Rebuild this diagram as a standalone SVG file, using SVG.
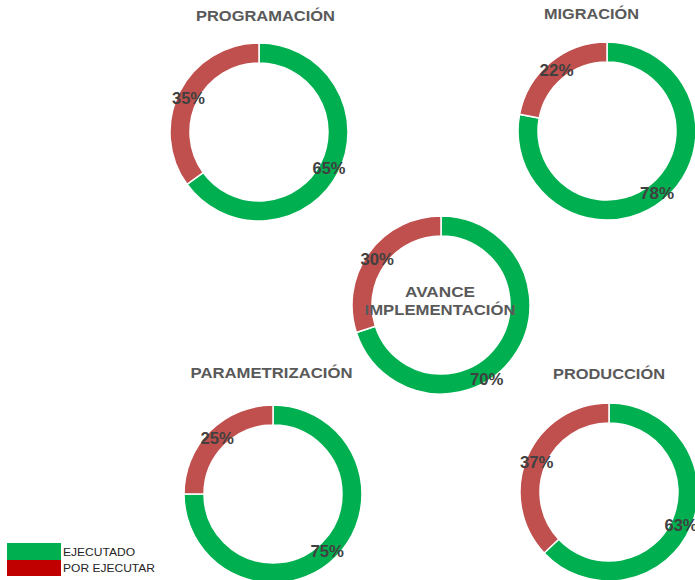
<svg xmlns="http://www.w3.org/2000/svg" width="695" height="580" viewBox="0 0 695 580">
<style>
.g{fill:#00B050;stroke:#fff;stroke-width:1.5}
.r{fill:#C0504D;stroke:#fff;stroke-width:1.5}
.t{font-family:"Liberation Sans",Arial,sans-serif;font-weight:bold;font-size:15.5px;fill:#595959;text-anchor:middle}
.p{font-family:"Liberation Sans",Arial,sans-serif;font-weight:bold;font-size:16px;fill:#404040}
.l{font-family:"Liberation Sans",Arial,sans-serif;font-size:11.5px;fill:#262626}
</style>
<rect width="695" height="580" fill="#fff"/>
<g id="programacion">
<path class="g" d="M259,43 A89,89 0 1 1 187.00,184.31 L203.18,172.56 A69,69 0 1 0 259,63 Z"/>
<path class="r" d="M187.00,184.31 A89,89 0 0 1 259,43 L259,63 A69,69 0 0 0 203.18,172.56 Z"/>
<text class="t" x="265.5" y="21" textLength="139" lengthAdjust="spacingAndGlyphs">PROGRAMACIÓN</text>
<text class="p" x="172" y="104" textLength="33" lengthAdjust="spacingAndGlyphs">35%</text>
<text class="p" x="312.5" y="174" textLength="33" lengthAdjust="spacingAndGlyphs">65%</text>
</g>
<g id="migracion">
<path class="g" d="M607,42 A89,89 0 1 1 519.58,114.32 L539.22,118.07 A69,69 0 1 0 607,62 Z"/>
<path class="r" d="M519.58,114.32 A89,89 0 0 1 607,42 L607,62 A69,69 0 0 0 539.22,118.07 Z"/>
<text class="t" x="591.5" y="19" textLength="95" lengthAdjust="spacingAndGlyphs">MIGRACIÓN</text>
<text class="p" x="539.5" y="76" textLength="34" lengthAdjust="spacingAndGlyphs">22%</text>
<text class="p" x="640" y="199" textLength="34" lengthAdjust="spacingAndGlyphs">78%</text>
</g>
<g id="avance">
<path class="g" d="M441,216 A89,89 0 1 1 356.36,332.50 L375.38,326.32 A69,69 0 1 0 441,236 Z"/>
<path class="r" d="M356.36,332.50 A89,89 0 0 1 441,216 L441,236 A69,69 0 0 0 375.38,326.32 Z"/>
<text class="t" x="440" y="297" textLength="70" lengthAdjust="spacingAndGlyphs">AVANCE</text>
<text class="t" x="440" y="315" textLength="151" lengthAdjust="spacingAndGlyphs">IMPLEMENTACIÓN</text>
<text class="p" x="360.5" y="265" textLength="33.5" lengthAdjust="spacingAndGlyphs">30%</text>
<text class="p" x="470" y="385" textLength="33.5" lengthAdjust="spacingAndGlyphs">70%</text>
</g>
<g id="parametrizacion">
<path class="g" d="M273,405 A89,89 0 1 1 184,494 L204,494 A69,69 0 1 0 273,425 Z"/>
<path class="r" d="M184,494 A89,89 0 0 1 273,405 L273,425 A69,69 0 0 0 204,494 Z"/>
<text class="t" x="271.5" y="378" textLength="162" lengthAdjust="spacingAndGlyphs">PARAMETRIZACIÓN</text>
<text class="p" x="200.5" y="444" textLength="33.5" lengthAdjust="spacingAndGlyphs">25%</text>
<text class="p" x="310.5" y="557" textLength="33.5" lengthAdjust="spacingAndGlyphs">75%</text>
</g>
<g id="produccion">
<path class="g" d="M609,403 A89,89 0 1 1 544.12,552.93 L558.70,539.23 A69,69 0 1 0 609,423 Z"/>
<path class="r" d="M544.12,552.93 A89,89 0 0 1 609,403 L609,423 A69,69 0 0 0 558.70,539.23 Z"/>
<text class="t" x="609" y="379" textLength="112" lengthAdjust="spacingAndGlyphs">PRODUCCIÓN</text>
<text class="p" x="520" y="468" textLength="33.5" lengthAdjust="spacingAndGlyphs">37%</text>
<text class="p" x="664.5" y="531" textLength="33" lengthAdjust="spacingAndGlyphs">63%</text>
</g>
<g id="legend">
<rect x="7" y="543" width="54" height="17" fill="#00B050"/>
<rect x="7" y="560" width="54" height="16" fill="#C00000"/>
<text class="l" x="63" y="556" textLength="72" lengthAdjust="spacingAndGlyphs">EJECUTADO</text>
<text class="l" x="63" y="572" textLength="92" lengthAdjust="spacingAndGlyphs">POR EJECUTAR</text>
</g>
<g id="connectors"></g>
</svg>
